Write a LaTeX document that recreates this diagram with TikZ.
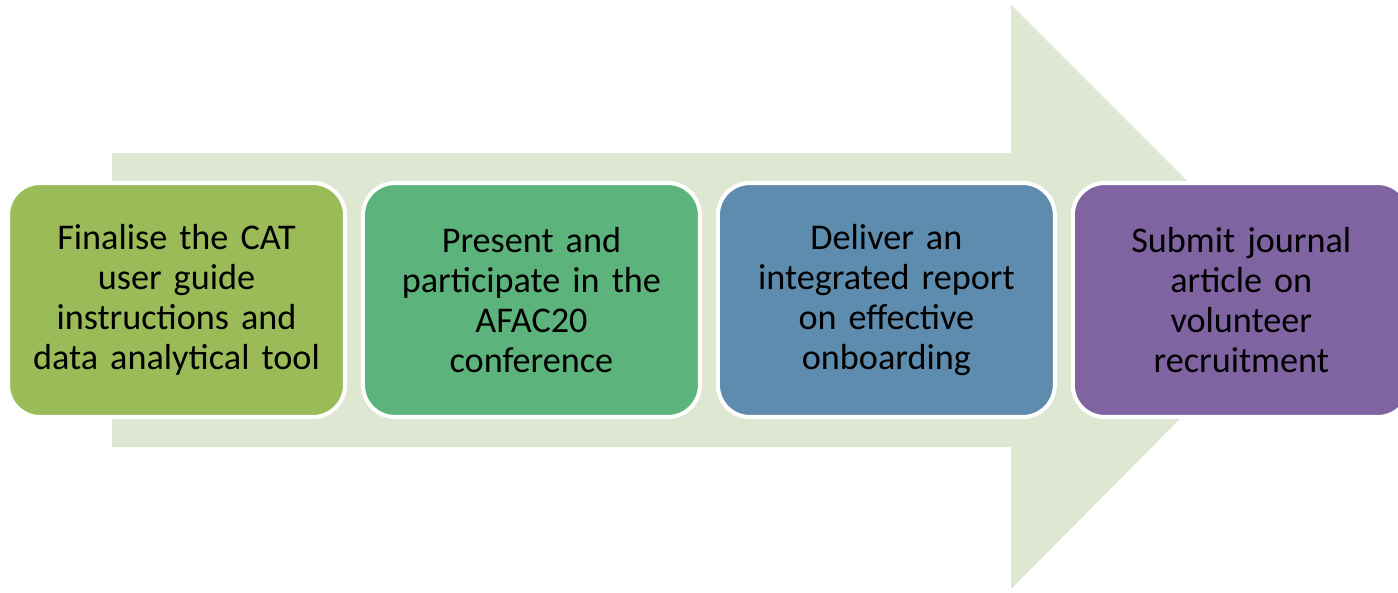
\documentclass[tikz,border=0pt]{standalone}
\usepackage{fontspec}
\setmainfont{Carlito}
\usepackage{tikz}
\usetikzlibrary{positioning}
\definecolor{arrowbg}{RGB}{222,231,209}
\definecolor{stageA}{RGB}{155,187,89}
\definecolor{stageB}{RGB}{92,179,124}
\definecolor{stageC}{RGB}{94,140,174}
\definecolor{stageD}{RGB}{128,100,162}
\tikzset{
	stage/.style={rectangle,rounded corners=0.64cm,draw=white,line width=0.08cm,
		minimum width=6.74cm,minimum height=4.68cm,text width=6.4cm,align=center,
		inner sep=0pt,font=\fontsize{20.6}{22.8}\selectfont,text=black},
}

\begin{document}
\begin{tikzpicture}[x=0.02cm,y=-0.02cm,node distance=0.28cm]
			\useasboundingbox (0,0) rectangle (1398,592);
			\clip (0,0) rectangle (1398,592);
			% the big arrow behind the steps
			\fill[arrowbg] (112,153) -- (1011,153) -- (1011,5) -- (1302,296)
				-- (1011,589) -- (1011,447) -- (112,447) -- cycle;

			\node[stage,fill=stageA] (s1) at (176.5,300) {Finalise the CAT\\ user guide\\ instructions and\\ data analytical tool};
			\node[stage,fill=stageB,right=of s1] (s2) {Present and\\ participate in the\\ AFAC20\\ conference};
			\node[stage,fill=stageC,right=of s2] (s3) {Deliver an\\ integrated report\\ on effective\\ onboarding};
			\node[stage,fill=stageD,right=of s3] (s4) {Submit journal\\ article on\\ volunteer\\ recruitment};
		\end{tikzpicture}
\end{document}
